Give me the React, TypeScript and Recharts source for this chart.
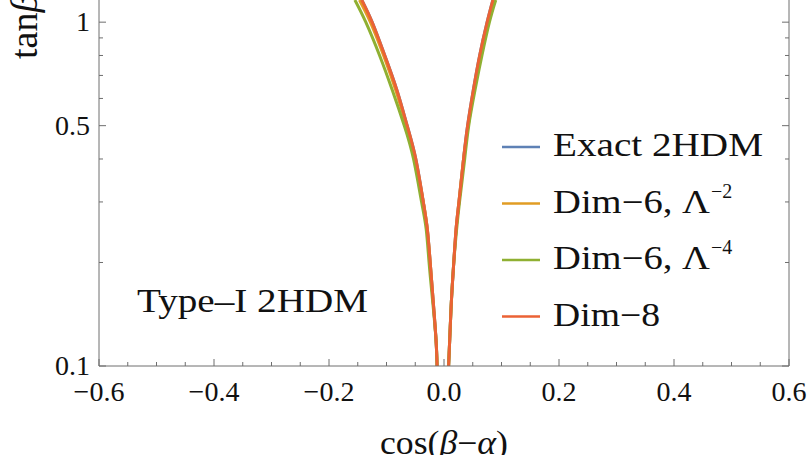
import { LineChart, Line, XAxis, YAxis } from "recharts";

// tan(beta) values shared by all branches, top of the plot to the bottom
const tanBeta = [1.16, 1.0, 0.8, 0.635, 0.5, 0.4, 0.3, 0.25, 0.2, 0.156, 0.12, 0.1];

// cos(beta - alpha), left and right branch of each curve
const exactLeft = [-0.143, -0.125, -0.103, -0.082, -0.064, -0.049, -0.036, -0.029, -0.024, -0.019, -0.014, -0.012];
const exactRight = [0.085, 0.075, 0.062, 0.051, 0.041, 0.034, 0.026, 0.021, 0.017, 0.013, 0.01, 0.008];
const dim6aLeft = [-0.147, -0.128, -0.105, -0.084, -0.065, -0.05, -0.036, -0.029, -0.024, -0.019, -0.014, -0.012];
const dim6aRight = [0.087, 0.077, 0.063, 0.052, 0.042, 0.034, 0.026, 0.021, 0.017, 0.013, 0.01, 0.008];
const dim6bLeft = [-0.155, -0.136, -0.112, -0.09, -0.069, -0.053, -0.039, -0.031, -0.026, -0.02, -0.014, -0.012];
const dim6bRight = [0.09, 0.079, 0.066, 0.054, 0.043, 0.036, 0.027, 0.022, 0.017, 0.013, 0.01, 0.008];
const dim8Left = [-0.143, -0.125, -0.103, -0.082, -0.064, -0.049, -0.036, -0.029, -0.024, -0.019, -0.014, -0.012];
const dim8Right = [0.085, 0.075, 0.062, 0.051, 0.041, 0.034, 0.026, 0.021, 0.017, 0.013, 0.01, 0.008];

const xTicks = [
  -0.6, -0.55, -0.5, -0.45, -0.4, -0.35, -0.3, -0.25, -0.2, -0.15, -0.1, -0.05, 0,
  0.05, 0.1, 0.15, 0.2, 0.25, 0.3, 0.35, 0.4, 0.45, 0.5, 0.55, 0.6,
];
const xMajor = [-0.6, -0.4, -0.2, 0, 0.2, 0.4, 0.6];
const xLabels = ["\u22120.6", "\u22120.4", "\u22120.2", "0.0", "0.2", "0.4", "0.6"];

const yTicks = [0.1, 0.2, 0.3, 0.4, 0.5, 0.6, 0.7, 0.8, 0.9, 1];
const yMajor = [0.1, 0.5, 1];
const yLabels = ["0.1", "0.5", "1"];

const series = [
  { key: "exact", name: "Exact 2HDM", sup: "", w: 210, color: "#5E81B5", left: exactLeft, right: exactRight },
  { key: "dim6a", name: "Dim\u22126, \u039B", sup: "\u22122", w: 157, color: "#E19C24", left: dim6aLeft, right: dim6aRight },
  { key: "dim6b", name: "Dim\u22126, \u039B", sup: "\u22124", w: 157, color: "#8FB032", left: dim6bLeft, right: dim6bRight },
  { key: "dim8", name: "Dim\u22128", sup: "", w: 107, color: "#EB6235", left: dim8Left, right: dim8Right },
];

const toRows = (cs: number[]) => cs.map((c, i) => ({ c, t: tanBeta[i] }));

const FONT = "'Liberation Serif', 'DejaVu Serif', serif";
const AXIS = "#6e6e6e";

const near = (list: number[], v: number) => list.findIndex((m) => Math.abs(m - v) < 1e-6);

function XTick({ x, y, payload }: any) {
  const i = near(xMajor, payload.value);
  return (
    <g>
      <line x1={x} x2={x} y1={y} y2={y - (i >= 0 ? 7 : 4)} stroke={AXIS} strokeWidth={1} />
      {i >= 0 && (
        <text x={x} y={y + 35} textAnchor="middle" fontFamily={FONT} fontSize={28} fill="#111">
          {xLabels[i]}
        </text>
      )}
    </g>
  );
}

function YTickLeft({ x, y, payload }: any) {
  const i = near(yMajor, payload.value);
  return (
    <g>
      <line x1={x} x2={x + (i >= 0 ? 7 : 4)} y1={y} y2={y} stroke={AXIS} strokeWidth={1} />
      {i >= 0 && (
        <text x={x - 9} y={y + 9} textAnchor="end" fontFamily={FONT} fontSize={28} fill="#111">
          {yLabels[i]}
        </text>
      )}
    </g>
  );
}

function YTickRight({ x, y, payload }: any) {
  const major = near(yMajor, payload.value) >= 0;
  return <line x1={x} x2={x - (major ? 7 : 4)} y1={y} y2={y} stroke={AXIS} strokeWidth={1} />;
}

export default function App() {
  return (
    <div style={{ position: "absolute", left: 0, top: 0, width: 808, height: 455, background: "#fff", overflow: "hidden" }}>
      <LineChart width={808} height={455} margin={{ top: 0, right: 0, bottom: 0, left: 0 }}>
        <XAxis
          type="number"
          dataKey="c"
          domain={[-0.6, 0.6]}
          ticks={xTicks}
          interval={0}
          height={89}
          tickSize={0}
          tickMargin={0}
          tick={<XTick />}
          stroke={AXIS}
          allowDataOverflow
        />
        <YAxis
          yAxisId="l"
          type="number"
          scale="log"
          dataKey="t"
          domain={[0.1, 1.16]}
          ticks={yTicks}
          interval={0}
          width={99}
          tickSize={0}
          tickMargin={0}
          tick={<YTickLeft />}
          stroke={AXIS}
          allowDataOverflow
        />
        <YAxis
          yAxisId="r"
          orientation="right"
          type="number"
          scale="log"
          dataKey="t"
          domain={[0.1, 1.16]}
          ticks={yTicks}
          interval={0}
          width={19}
          tickSize={0}
          tickMargin={0}
          tick={<YTickRight />}
          stroke={AXIS}
          allowDataOverflow
        />
        {series.flatMap((s) => [
          <Line
            key={s.key + "L"}
            yAxisId="l"
            data={toRows(s.left)}
            dataKey="t"
            name={s.name}
            type="natural"
            stroke={s.color}
            strokeWidth={3}
            dot={false}
            isAnimationActive={false}
          />,
          <Line
            key={s.key + "R"}
            yAxisId="l"
            data={toRows(s.right)}
            dataKey="t"
            legendType="none"
            type="natural"
            stroke={s.color}
            strokeWidth={3}
            dot={false}
            isAnimationActive={false}
          />,
        ])}
      </LineChart>
      <svg width={808} height={455} style={{ position: "absolute", left: 0, top: 0, pointerEvents: "none" }}>
        {series.map((s, i) => {
          const cy = 147 + i * 56.5;
          return (
            <g key={s.key}>
              <line x1={502} x2={540} y1={cy} y2={cy} stroke={s.color} strokeWidth={2.5} />
              <text
                x={553}
                y={cy + 9}
                fontFamily={FONT}
                fontSize={33}
                fill="#111"
                textLength={s.w}
                lengthAdjust="spacingAndGlyphs"
              >
                {s.name}
              </text>
              {s.sup && (
                <text x={553 + s.w + 1} y={cy - 6} fontFamily={FONT} fontSize={20} fill="#111">
                  {s.sup}
                </text>
              )}
            </g>
          );
        })}
        <text
          x={137}
          y={312}
          fontFamily={FONT}
          fontSize={34}
          fill="#111"
          textLength={231}
          lengthAdjust="spacingAndGlyphs"
        >
          Type{"\u2013"}I 2HDM
        </text>
        <text
          x={444}
          y={454}
          textAnchor="middle"
          fontFamily={FONT}
          fontSize={33}
          fill="#111"
          textLength={128}
          lengthAdjust="spacingAndGlyphs"
        >
          cos(<tspan fontStyle="italic">{"\u03B2"}</tspan>{"\u2212"}<tspan fontStyle="italic">{"\u03B1"}</tspan>)
        </text>
        <text
          transform="translate(37, 59) rotate(-90)"
          textAnchor="start"
          fontFamily={FONT}
          fontSize={38}
          fill="#111"
        >
          tan<tspan fontStyle="italic">{"\u03B2"}</tspan>
        </text>
      </svg>
    </div>
  );
}
